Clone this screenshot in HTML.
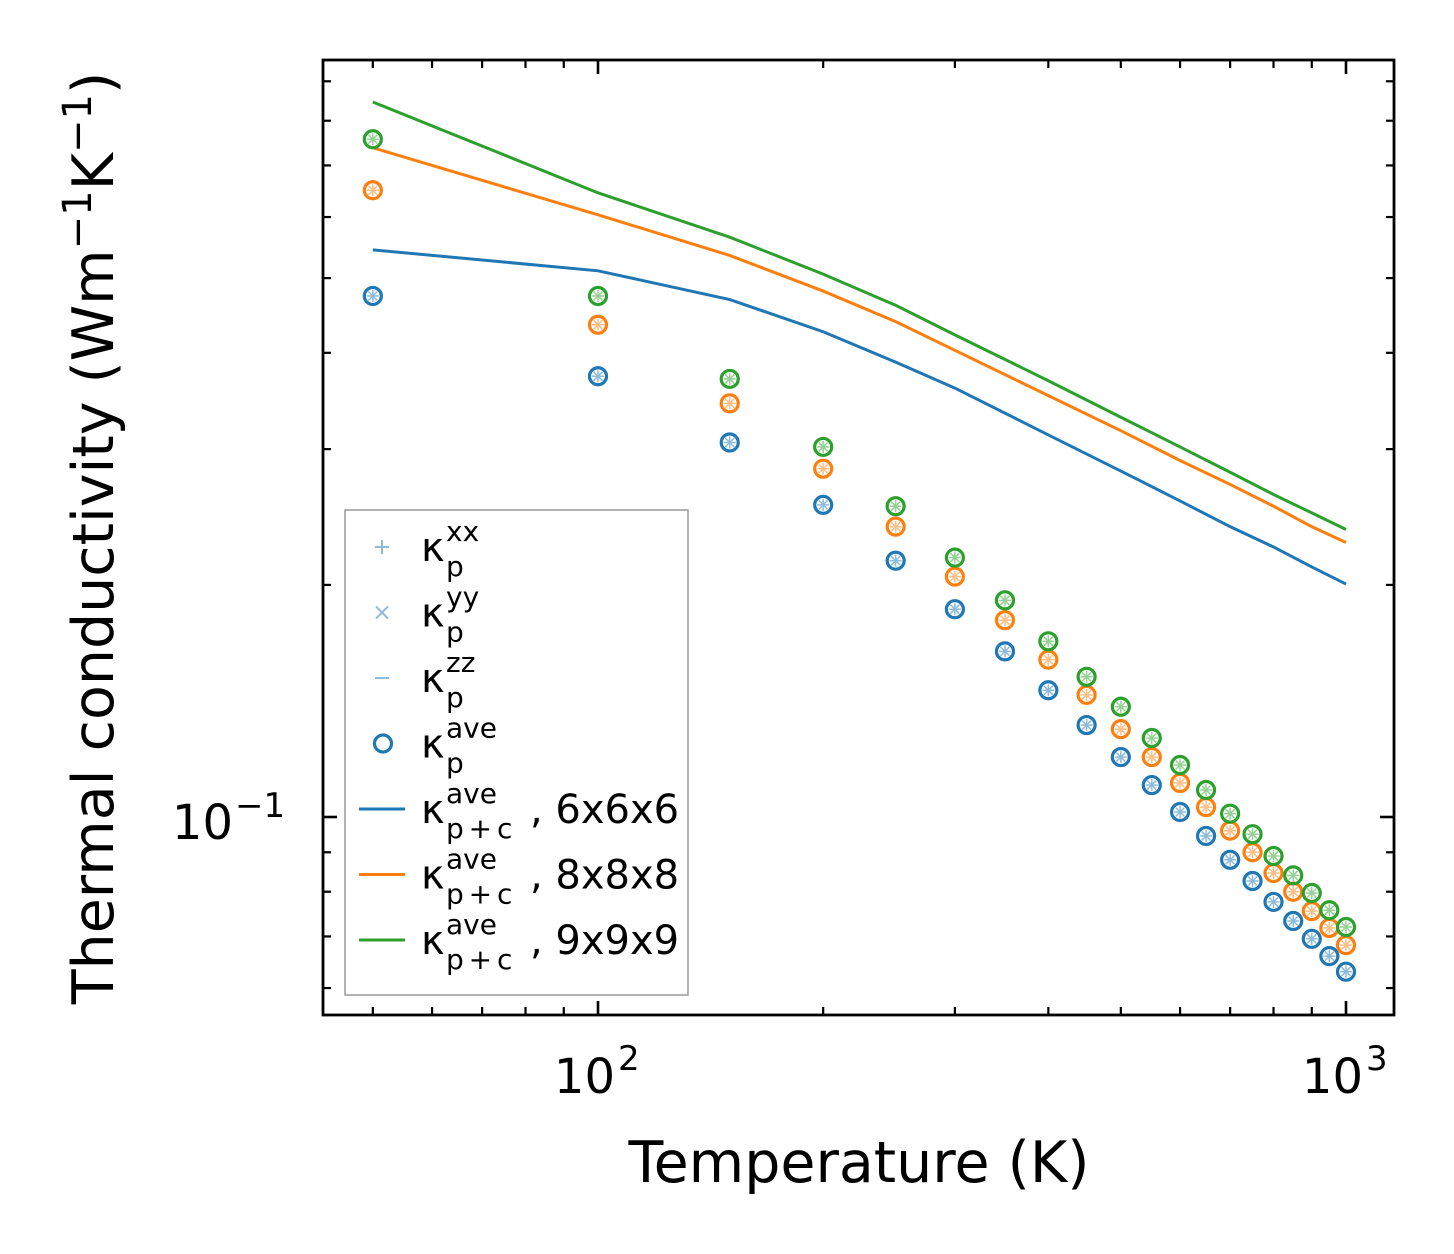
<!DOCTYPE html>
<html><head><meta charset="utf-8"><style>
html,body{margin:0;padding:0;background:#fff}
svg{display:block;font-family:"DejaVu Sans","Liberation Sans",sans-serif}
</style></head><body>
<svg id="chart" width="1454" height="1254" viewBox="0 0 1454 1254"></svg>
<script>
const temps=[50,100,150,200,250,300,350,400,450,500,550,600,650,700,750,800,850,900,950,1000];
const kBlue=[0.474,0.373,0.306,0.254,0.215,0.186,0.164,0.146,0.1316,0.1196,0.110,0.1015,0.0945,0.088,0.0826,0.0776,0.0733,0.0695,0.066,0.063];
const kOrange=[0.650,0.435,0.344,0.283,0.238,0.205,0.180,0.160,0.144,0.130,0.1196,0.1107,0.103,0.096,0.090,0.0846,0.080,0.0755,0.0718,0.0682];
const kGreen=[0.757,0.474,0.370,0.302,0.253,0.217,0.191,0.169,0.152,0.139,0.1266,0.1168,0.1084,0.101,0.095,0.089,0.084,0.0797,0.0757,0.072];
const lineT=[50,100,150,200,250,300,400,500,600,700,800,900,1000];
const line6=[0.544,0.511,0.469,0.426,0.389,0.360,0.313,0.281,0.257,0.238,0.224,0.211,0.2005];
const line8=[0.738,0.604,0.535,0.481,0.439,0.403,0.352,0.317,0.290,0.270,0.253,0.238,0.227];
const line9=[0.846,0.645,0.565,0.506,0.461,0.422,0.368,0.330,0.302,0.280,0.262,0.248,0.236];
const xTickLabels=["10","10"];const xTickExp=["2","3"];const xTickVals=[100,1000];
const yTickVals=[0.1];

const NS="http://www.w3.org/2000/svg";
const svg=document.getElementById('chart');
const L=323,R=1394,T=60,B=1015;
function X(v){return 598+(Math.log10(v)-2)*748;}
function Y(v){return 817-(Math.log10(v)+1)*771;}
function el(tag,attrs,parent){const e=document.createElementNS(NS,tag);for(const k in attrs)e.setAttribute(k,attrs[k]);(parent||svg).appendChild(e);return e;}

const gAx=el('g',{});


const xMinor=[50,60,70,80,90,200,300,400,500,600,700,800,900];
xMinor.forEach(v=>{const x=X(v);el('line',{x1:x,x2:x,y1:B,y2:B-8,stroke:'#000','stroke-width':2.2},gAx);el('line',{x1:x,x2:x,y1:T,y2:T+8,stroke:'#000','stroke-width':2.2},gAx);});
xTickVals.forEach((v,i)=>{const x=X(v);el('line',{x1:x,x2:x,y1:B,y2:B-14,stroke:'#000','stroke-width':2.6},gAx);el('line',{x1:x,x2:x,y1:T,y2:T+14,stroke:'#000','stroke-width':2.6},gAx);
 const t=el('text',{x:x+17,y:1093,'font-size':48,'text-anchor':'end'},gAx);t.textContent=xTickLabels[i];
 
 
 const s=el('text',{x:x+20,y:1070,'font-size':34,'text-anchor':'start'},gAx);s.textContent=xTickExp[i];});
const yMinor=[0.06,0.07,0.08,0.09,0.2,0.3,0.4,0.5,0.6,0.7,0.8,0.9];
yMinor.forEach(v=>{const y=Y(v);el('line',{x1:L,x2:L+8,y1:y,y2:y,stroke:'#000','stroke-width':2.2},gAx);el('line',{x1:R,x2:R-8,y1:y,y2:y,stroke:'#000','stroke-width':2.2},gAx);});
yTickVals.forEach(v=>{const y=Y(v);el('line',{x1:L,x2:L+14,y1:y,y2:y,stroke:'#000','stroke-width':2.6},gAx);el('line',{x1:R,x2:R-14,y1:y,y2:y,stroke:'#000','stroke-width':2.6},gAx);
 const t=el('text',{x:233,y:y+22,'font-size':48,'text-anchor':'end'},gAx);t.textContent='10';
 
 
 const s=el('text',{x:235,y:y,'font-size':34,'text-anchor':'start'},gAx);s.textContent='−1';});

const clip=el('clipPath',{id:'cp'});el('rect',{x:L,y:T,width:R-L,height:B-T},clip);
const gD=el('g',{'clip-path':'url(#cp)'});
[[line6,'#1f77b4','line-6x6x6'],[line8,'#ff7f0e','line-8x8x8'],[line9,'#2ca02c','line-9x9x9']].forEach(([d,c,n])=>{
 const p=el('polyline',{points:lineT.map((t,i)=>X(t)+','+Y(d[i])).join(' '),fill:'none',stroke:c,'stroke-width':3},gD);
 
 
});
function lighten(c){return c==='#1f77b4'?'#8fbbd9':c==='#ff7f0e'?'#ffbf86':'#95d095';}
[[kBlue,'#1f77b4','blue'],[kOrange,'#ff7f0e','orange'],[kGreen,'#2ca02c','green']].forEach(([d,c,n])=>{
 temps.forEach((t,i)=>{const x=X(t),y=Y(d[i]);const lc=lighten(c);
  el('line',{x1:x-6,x2:x+6,y1:y,y2:y,stroke:lc,'stroke-width':1.5},gD);
  el('line',{x1:x,x2:x,y1:y-6,y2:y+6,stroke:lc,'stroke-width':1.5},gD);
  el('line',{x1:x-4.5,x2:x+4.5,y1:y-4.5,y2:y+4.5,stroke:lc,'stroke-width':1.5},gD);
  el('line',{x1:x-4.5,x2:x+4.5,y1:y+4.5,y2:y-4.5,stroke:lc,'stroke-width':1.5},gD);
  const ci=el('circle',{cx:x,cy:y,r:8.5,fill:'none',stroke:c,'stroke-width':3.2},gD);
  
  
 });
});
el('rect',{x:L,y:T,width:R-L,height:B-T,fill:'none',stroke:'#000','stroke-width':2.8},gAx);

const xt=el('text',{x:859,y:1182,'font-size':57,'text-anchor':'middle'});xt.textContent='Temperature (K)';


const yt=el('text',{transform:'translate(113,538) rotate(-90)','font-size':57,'text-anchor':'middle'});


yt.innerHTML='Thermal conductivity (Wm<tspan dy="-22" font-size="40">−1</tspan><tspan dy="22">K</tspan><tspan dy="-22" font-size="40">−1</tspan><tspan dy="22">)</tspan>';

const lg=el('g',{});


el('rect',{x:345,y:510,width:343,height:485,fill:'#fff',stroke:'#999','stroke-width':1.5},lg);
const entries=[['+','xx','p',''],['x','yy','p',''],['-','zz','p',''],['o','ave','p',''],['#1f77b4','ave','p + c',', 6x6x6'],['#ff7f0e','ave','p + c',', 8x8x8'],['#2ca02c','ave','p + c',', 9x9x9']];
entries.forEach((e,i)=>{const y=547+i*65.5;const g=el('g',{},lg);
 
 
 const lc='#8fbbd9';
 if(e[0]==='+'){el('line',{x1:375,x2:389,y1:y,y2:y,stroke:lc,'stroke-width':2},g);el('line',{x1:382,x2:382,y1:y-7,y2:y+7,stroke:lc,'stroke-width':2},g);}
 else if(e[0]==='x'){el('line',{x1:376,x2:388,y1:y-6,y2:y+6,stroke:lc,'stroke-width':2},g);el('line',{x1:376,x2:388,y1:y+6,y2:y-6,stroke:lc,'stroke-width':2},g);}
 else if(e[0]==='-'){el('line',{x1:375,x2:389,y1:y,y2:y,stroke:lc,'stroke-width':2},g);}
 else if(e[0]==='o'){el('circle',{cx:383,cy:y,r:8.5,fill:'none',stroke:'#1f77b4','stroke-width':3.2},g);}
 else {el('line',{x1:359,x2:405,y1:y,y2:y,stroke:e[0],'stroke-width':3},g);}
 const t=el('text',{x:421,y:y+14,'font-size':40},g);
 t.innerHTML='κ<tspan x="446" dy="-20" font-size="28">'+e[1]+'</tspan><tspan x="446" dy="35" font-size="28" word-spacing="-4">'+e[2]+'</tspan>';
 if(e[3]){const t2=el('text',{x:530,y:y+14,'font-size':40},g);t2.textContent=e[3];}
});
</script>
</body></html>
